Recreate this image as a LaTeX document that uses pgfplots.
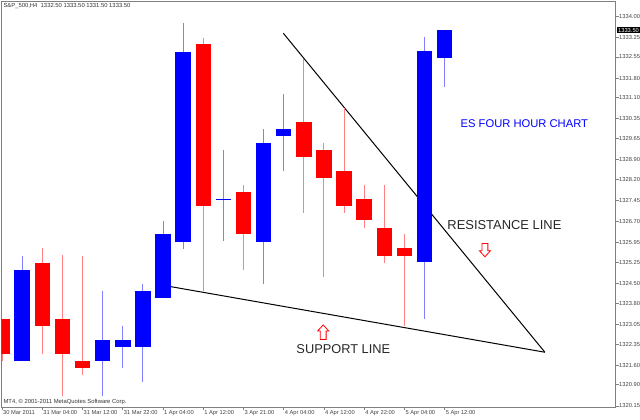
\documentclass[border=0pt]{standalone}
\usepackage{fontspec}
\setmainfont{Liberation Sans}
\usepackage{pgfplots}
\usepackage{pgfplotstable}
\pgfplotsset{compat=1.18}

\definecolor{mtred}{RGB}{255,0,0}
\definecolor{mtblue}{RGB}{0,0,255}
\definecolor{wickred}{RGB}{255,128,128}
\definecolor{wickblue}{RGB}{128,128,255}
\definecolor{frame}{RGB}{128,128,128}

% S&P 500 (ES) four hour bars: bar index, open, high, low, close
\pgfplotstableread{
x  o       h       l       c
1  1321.75 1325.50 1321.75 1325.00
5  1321.75 1324.25 1320.50 1322.50
6  1322.25 1323.00 1321.50 1322.50
7  1322.25 1324.50 1321.00 1324.25
8  1324.00 1326.75 1324.00 1326.25
9  1326.00 1333.75 1325.75 1332.75
11 1327.50 1329.25 1326.00 1327.50
13 1326.00 1330.00 1324.50 1329.50
14 1329.75 1331.25 1328.50 1330.00
21 1325.25 1333.25 1323.25 1332.75
22 1332.50 1333.50 1331.50 1333.50
}\bull

\pgfplotstableread{
x  o       h       l       c
0  1323.25 1323.25 1321.75 1322.00
2  1325.25 1325.75 1322.00 1323.00
3  1323.25 1325.50 1320.50 1322.00
4  1321.75 1325.50 1321.25 1321.50
10 1333.00 1333.25 1324.25 1327.25
12 1327.75 1328.00 1325.00 1326.25
15 1330.25 1332.50 1327.00 1329.00
16 1329.25 1329.50 1324.75 1328.25
17 1328.50 1330.75 1327.00 1327.25
18 1327.50 1328.00 1326.50 1326.75
19 1326.50 1328.00 1325.25 1325.50
20 1325.75 1326.25 1323.00 1325.50
}\bear

\pgfplotsset{
    candle/.style n args={2}{draw=none, no markers, forget plot,
        error bars/.cd, y dir=both, y explicit, error mark=none,
        error bar style={draw=#1, line width=#2}},
}

\begin{document}
\begin{tikzpicture}
\begin{axis}[
    at={(0,0)}, anchor=south west,
    scale only axis,
    width=460.5pt, height=304.5pt,
    xmin=-0.03, xmax=30.49,
    ymin=1320.114, ymax=1334.537,
    axis line style={draw=frame, line width=0.75pt},
    tick style={draw=frame, line width=0.6pt},
    tick align=outside,
    major tick length=2.6pt,
    xtick pos=bottom, ytick pos=right, yticklabel pos=right,
    xtick={0,2,...,22},
    xticklabels={30 Mar 2011, 31 Mar 04:00, 31 Mar 12:00, 31 Mar 22:00,
        1 Apr 04:00, 1 Apr 12:00, 3 Apr 21:00, 4 Apr 04:00,
        4 Apr 12:00, 4 Apr 22:00, 5 Apr 04:00, 5 Apr 12:00},
    ytick={1320.15,1320.90,1321.60,1322.35,1323.05,1323.80,1324.50,
        1325.25,1325.95,1326.70,1327.45,1328.20,1328.90,1329.65,
        1330.35,1331.10,1331.80,1332.55,1333.25,1334.00},
    yticklabels={1320.15,1320.90,1321.60,1322.35,1323.05,1323.80,1324.50,
        1325.25,1325.95,1326.70,1327.45,1328.20,1328.90,1329.65,
        1330.35,1331.10,1331.80,1332.55,1333.25,1334.00},
    ticklabel style={font=\fontsize{4.3}{5}\selectfont, text=black!75, inner sep=0pt},
    xticklabel style={anchor=north west, xshift=0.6pt},
    yticklabel style={anchor=west},
]
% trend lines (behind the candles)
\addplot[black, line width=0.75pt] coordinates {(13.98,1333.39) (26.98,1322.06)};
\addplot[black, line width=0.75pt] coordinates {(8.38,1324.39) (26.98,1322.06)};

% wicks: high to low
\addplot[candle={wickred}{0.75pt}]
    table[x=x, y expr={(\thisrow{h}+\thisrow{l})/2},
          y error expr={(\thisrow{h}-\thisrow{l})/2}] {\bear};
\addplot[candle={wickblue}{0.75pt}]
    table[x=x, y expr={(\thisrow{h}+\thisrow{l})/2},
          y error expr={(\thisrow{h}-\thisrow{l})/2}] {\bull};

% bodies: open to close (a doji keeps a hairline)
\addplot[candle={mtred}{11.6pt}]
    table[x=x, y expr={(\thisrow{o}+\thisrow{c})/2},
          y error expr={max(abs(\thisrow{o}-\thisrow{c})/2,0.018)}] {\bear};
\addplot[candle={mtblue}{11.6pt}]
    table[x=x, y expr={(\thisrow{o}+\thisrow{c})/2},
          y error expr={max(abs(\thisrow{o}-\thisrow{c})/2,0.018)}] {\bull};

% annotations
\node[text=mtblue, font=\fontsize{8.4}{10}\selectfont] at (axis cs:25.96,1330.17) {ES FOUR HOUR CHART};
\node[text=black!85, font=\fontsize{9.7}{11}\selectfont] at (axis cs:24.97,1326.59) {RESISTANCE LINE};
\node[text=black!85, font=\fontsize{9.6}{11}\selectfont] at (axis cs:16.96,1322.17) {SUPPORT LINE};

\draw[mtred, line width=0.6pt, fill=white] (axis cs:15.96,1323.03)
    -- +(4.1pt,-4.5pt) -- +(2.2pt,-4.5pt) -- +(2.2pt,-11pt)
    -- +(-2.2pt,-11pt) -- +(-2.2pt,-4.5pt) -- +(-4.1pt,-4.5pt) -- cycle;
\draw[mtred, line width=0.6pt, fill=white] (axis cs:24.0,1325.45)
    -- +(4.1pt,4.5pt) -- +(2.2pt,4.5pt) -- +(2.2pt,10pt)
    -- +(-2.2pt,10pt) -- +(-2.2pt,4.5pt) -- +(-4.1pt,4.5pt) -- cycle;

\node[anchor=west, inner sep=0pt, xshift=1.35pt, yshift=-3.75pt, text=black!80,
    font=\fontsize{4.4}{5}\selectfont] at (rel axis cs:0,1)
    {S\&P\_500,H4\ \ 1332.50 1333.50 1331.50 1333.50};
\node[anchor=west, inner sep=0pt, xshift=1.35pt, yshift=3.75pt, text=black!80,
    font=\fontsize{4.4}{5}\selectfont] at (rel axis cs:0,0)
    {MT4, © 2001-2011 MetaQuotes Software Corp.};

\coordinate (pbox) at (axis cs:30.49,1333.50);
\end{axis}
\node[anchor=west, fill=black, text=white, inner sep=0.6pt,
    font=\fontsize{4.3}{5}\selectfont] at ([xshift=1.2pt]pbox) {1333.50};
\pgfresetboundingbox
\path[use as bounding box] (-1.125pt,-9pt) rectangle (478.875pt,305.25pt);
\end{tikzpicture}
\end{document}
